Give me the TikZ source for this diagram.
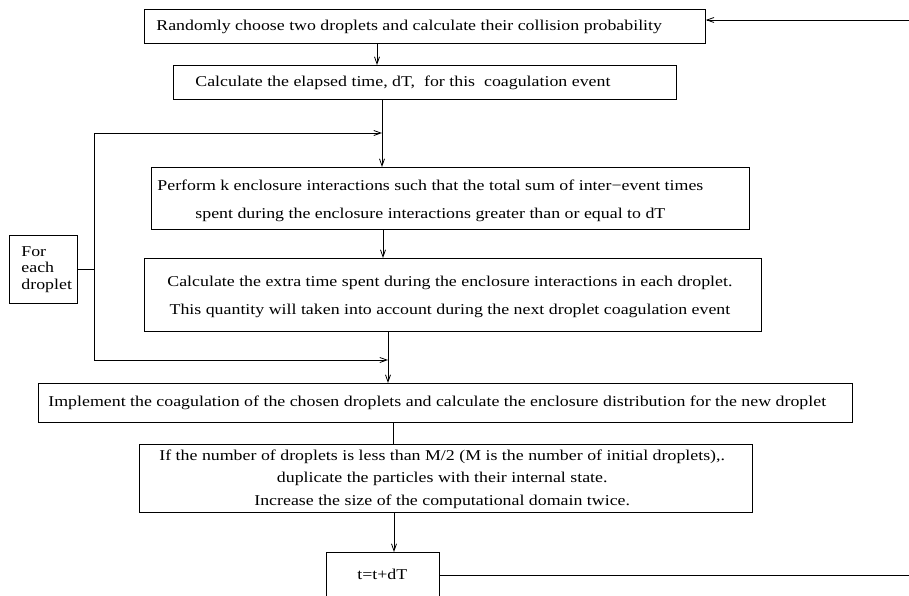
\documentclass[tikz,border=0pt]{standalone}
\usepackage{fontspec}
\setmainfont[FakeStretch=1.19]{Liberation Serif}
\usetikzlibrary{arrows.meta}
\newcommand\bxt[3]{\makebox[#1][l]{\hspace{#2}\begin{tabular}{@{}c@{}}#3\end{tabular}}}
\newcommand\bxl[3]{\makebox[#1][l]{\hspace{#2}\begin{tabular}{@{}l@{}}#3\end{tabular}}}
\begin{document}
\begin{tikzpicture}[x=1pt,y=-1pt,
  box/.style={draw, line width=0.8pt, inner sep=0pt, anchor=north west, font=\fontsize{15}{18}\selectfont},
  arr/.style={-{Straight Barb[length=7pt,width=5pt]}, line width=0.8pt},
  ln/.style={line width=0.8pt}]
\clip (0,0) rectangle (909,595);
\fill[white] (0,0) rectangle (909,595);
% boxes
\node[box, minimum height=34pt] (b1) at (144,9)
  {\bxt{561pt}{12pt}{Randomly choose two droplets and calculate their collision probability}};
\node[box, minimum height=34pt] (b2) at (173,65)
  {\bxt{503pt}{22pt}{Calculate the elapsed time, dT,\ \ for this\ \ coagulation event}};
\node[box, minimum height=62pt, font=\fontsize{15}{28}\selectfont] (b3) at (151,167)
  {\bxt{598pt}{6pt}{Perform k enclosure interactions such that the total sum of inter−event times\\spent during the enclosure interactions greater than or equal to dT}};
\node[box, minimum height=73pt, font=\fontsize{15}{28}\selectfont] (b4) at (144,258)
  {\bxt{617pt}{23pt}{Calculate the extra time spent during the enclosure interactions in each droplet.\\This quantity will taken into account during the next droplet coagulation event}};
\node[box, minimum height=68pt, font=\fontsize{15}{16.7}\selectfont] (f) at (9,235)
  {\bxl{68pt}{12pt}{For\\each\\droplet}};
\node[box, minimum height=39pt] (b5) at (38,383)
  {\bxt{814pt}{10pt}{Implement the coagulation of the chosen droplets and calculate the enclosure distribution for the new droplet}};
\node[box, minimum height=68pt, font=\fontsize{15}{22.5}\selectfont] (b6) at (139,444)
  {\bxt{613pt}{20pt}{If the number of droplets is less than M/2 (M is the number of initial droplets),.\\duplicate the particles with their internal state.\\Increase the size of the computational domain twice.}};
\node[box, minimum height=46pt] (t) at (326,552)
  {\bxt{113pt}{31pt}{t=t+dT}};
% helper coordinates
\coordinate (r1) at (909,20);
\coordinate (r2) at (909,574);
\coordinate (L) at (94,0);
\coordinate (c1) at (377,0);
\coordinate (c2) at (382,0);
\coordinate (c3) at (383,0);
\coordinate (c4) at (388,0);
\coordinate (c5) at (393,0);
\coordinate (c6) at (394,0);
\coordinate (ya) at (0,133);
\coordinate (yb) at (0,360);
% connectors
\draw[arr] (r1) -- (r1 -| b1.east);
\draw[arr] (b1.south -| c1) -- (b2.north -| c1);
\draw[arr] (b2.south -| c2) -- (b3.north -| c2);
\draw[arr] (b3.south -| c3) -- (b4.north -| c3);
\draw[arr] (b4.south -| c4) -- (b5.north -| c4);
\draw[ln] (b5.south -| c5) -- (b6.north -| c5);
\draw[arr] (b6.south -| c6) -- (t.north -| c6);
\draw[ln] (f.east) -- (f.east -| L);
\draw[arr] (L |- yb) -- (L |- ya) -- (c2 |- ya);
\draw[arr] (L |- yb) -- (c4 |- yb);
\draw[ln] (t.east) -- (t.east -| r2);
\end{tikzpicture}
\end{document}
